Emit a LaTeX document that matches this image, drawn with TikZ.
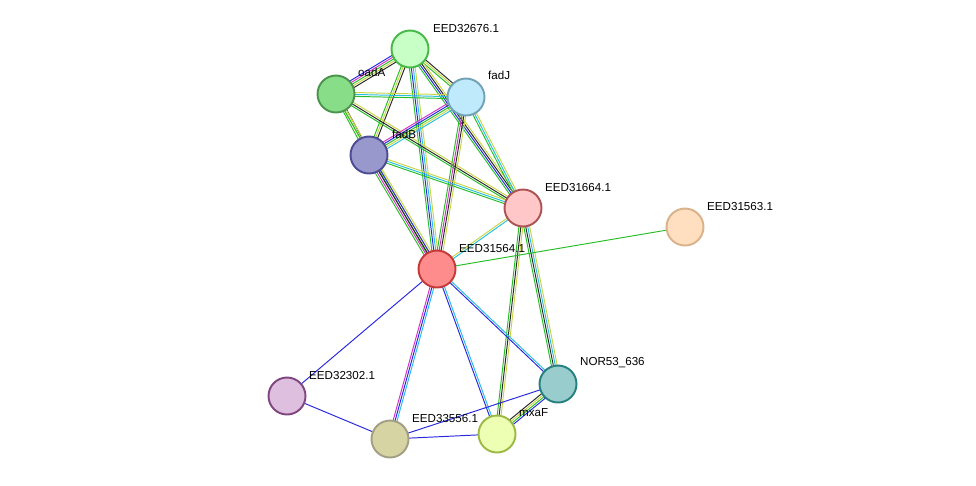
\documentclass[tikz,border=0pt]{standalone}
\usepackage{fontspec}
\setmainfont{Liberation Sans}
\usetikzlibrary{calc,backgrounds}

\definecolor{etext}{RGB}{200,214,70}
\definecolor{egreen}{RGB}{40,190,40}
\definecolor{eblack}{RGB}{40,40,40}
\definecolor{emag}{RGB}{210,50,200}
\definecolor{ecyan}{RGB}{40,190,225}
\definecolor{eblue}{RGB}{40,40,225}

\tikzset{
  prot/.style 2 args={circle, minimum size=0.74cm, inner sep=0pt, line width=1.1pt, fill=#1, draw=#2},
  lbl/.style={font=\fontsize{6.6}{7}\selectfont, anchor=west},
  edg/.style={line width=0.55pt}
}

% multi-coloured edge: parallel lines, one per colour
\newcommand\protedge[3]{%
  \foreach \c [count=\n] in {#3} {\xdef\nedge{\n}}%
  \foreach \c [count=\i] in {#3} {%
    \pgfmathsetmacro\off{(\i-(\nedge+1)/2)*1.1}%
    \draw[edg,\c] ($(#1)!\off pt!90:(#2)$) -- ($(#2)!\off pt!-90:(#1)$);}}

\begin{document}
\begin{tikzpicture}[x=0.02cm,y=-0.02cm]
    \useasboundingbox (0,0) rectangle (976,485);

    % Proteins
    \node[prot={green!22!white}{green!45!gray}] (p32676) at (410,49) {};
    \node[prot={green!55!gray!60!white}{green!40!black!70}] (oadA) at (336,94) {};
    \node[prot={cyan!25!white}{cyan!40!gray}] (fadJ) at (466,97) {};
    \node[prot={blue!35!gray!60!white}{blue!40!black!70}] (fadB) at (369,155) {};
    \node[prot={red!22!white}{red!35!gray}] (p31664) at (523,208) {};
    \node[prot={orange!25!white}{brown!60!white}] (p31563) at (685,227) {};
    \node[prot={red!45!white}{red!55!gray}] (p31564) at (437,269) {};
    \node[prot={violet!25!white}{violet!45!gray}] (p32302) at (287,396) {};
    \node[prot={teal!40!white}{teal!70!gray}] (nor53) at (558,384) {};
    \node[prot={lime!30!white}{lime!45!gray}] (mxaF) at (497,434) {};
    \node[prot={yellow!40!gray!60!white}{yellow!30!black!60}] (p33556) at (390,439) {};

    % Labels
    \node[lbl] at (427,28) {EED32676.1};
    \node[lbl] at (352,72) {oadA};
    \node[lbl] at (482,75) {fadJ};
    \node[lbl] at (386,134) {fadB};
    \node[lbl] at (539,187) {EED31664.1};
    \node[lbl] at (701,206) {EED31563.1};
    \node[lbl] at (453,248) {EED31564.1};
    \node[lbl] at (303,375) {EED32302.1};
    \node[lbl] at (574,363) {NOR53\_636};
    \node[lbl] at (513,413) {mxaF};
    \node[lbl] at (406,418) {EED33556.1};

    % Interactions
    \begin{scope}[on background layer]
    \protedge{p32676}{oadA}{eblue,emag,egreen,etext,eblack}
    \protedge{p32676}{fadJ}{egreen,etext,eblack}
    \protedge{p32676}{fadB}{egreen,etext,eblack}
    \protedge{p32676}{p31664}{egreen,eblue,eblack,etext}
    \protedge{p32676}{p31564}{egreen,eblue,ecyan,etext}
    \protedge{oadA}{fadJ}{egreen,ecyan,etext}
    \protedge{oadA}{fadB}{egreen,etext,eblack}
    \protedge{oadA}{p31664}{egreen,eblack,etext}
    \protedge{oadA}{p31564}{egreen,etext}
    \protedge{fadJ}{fadB}{emag,eblue,egreen,etext,ecyan}
    \protedge{fadJ}{p31664}{egreen,ecyan,etext}
    \protedge{fadJ}{p31564}{egreen,emag,eblack,etext}
    \protedge{fadB}{p31664}{egreen,ecyan,etext}
    \protedge{fadB}{p31564}{egreen,emag,eblack,eblue,etext}
    \protedge{p31664}{p31564}{etext,ecyan}
    \protedge{p31664}{nor53}{egreen,eblack,ecyan,etext}
    \protedge{p31664}{mxaF}{egreen,eblack,etext}
    \protedge{p31564}{p31563}{egreen}
    \protedge{p31564}{p32302}{eblue}
    \protedge{p31564}{p33556}{emag,eblue,ecyan}
    \protedge{p31564}{mxaF}{eblue,ecyan}
    \protedge{p31564}{nor53}{eblue,ecyan}
    \protedge{p32302}{p33556}{eblue}
    \protedge{p33556}{mxaF}{eblue}
    \protedge{p33556}{nor53}{eblue}
    \protedge{mxaF}{nor53}{eblue,egreen,etext,eblack}
    \end{scope}
\end{tikzpicture}
\end{document}
